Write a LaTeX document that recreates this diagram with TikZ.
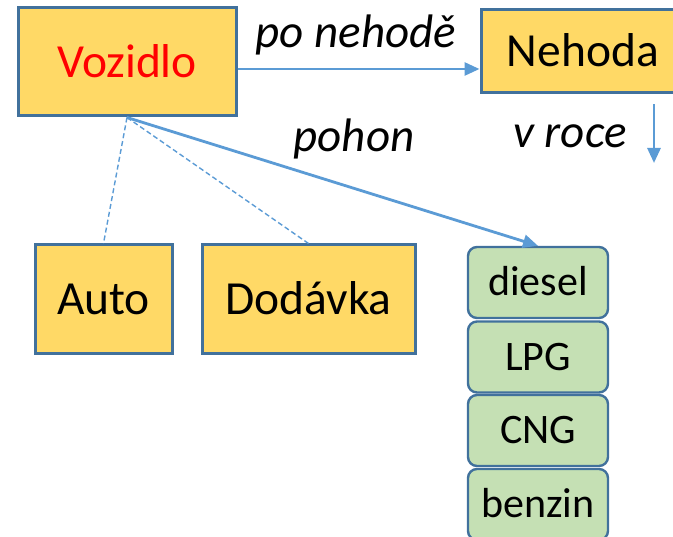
\documentclass[tikz,border=0pt]{standalone}
\usepackage{fontspec}
\setmainfont{Carlito}
\usetikzlibrary{arrows.meta}
\definecolor{boxfill}{HTML}{FFD966}
\definecolor{boxline}{HTML}{41719C}
\definecolor{greenfill}{HTML}{C5E0B4}
\definecolor{linkcol}{HTML}{5B9BD5}
\begin{document}
\begin{tikzpicture}[x=1pt,y=-1pt,
  ybox/.style={draw=boxline, fill=boxfill, line width=3pt, inner sep=0pt,
    text height=30.5pt, text depth=0pt, font=\fontsize{47.5}{50}\selectfont},
  gbox/.style={draw=boxline, fill=greenfill, line width=2.4pt, rounded corners=9pt,
    inner sep=0pt, minimum width=140pt, minimum height=71pt,
    text height=27pt, text depth=0pt, font=\fontsize{42}{45}\selectfont},
  link/.style={draw=linkcol, line width=2.8pt, -{Triangle[length=15pt,width=13pt]}},
  dlink/.style={draw=linkcol, line width=1.4pt, dash pattern=on 5pt off 3pt},
  lab/.style={font=\fontsize{47}{50}\selectfont\itshape, inner sep=0pt, anchor=base}
]
\useasboundingbox (0,0) rectangle (673,537);
\clip (0,0) rectangle (673,537);

\node[ybox, minimum width=218pt, minimum height=108pt, text=red] (voz) at (127,62) {Vozidlo};
\node[ybox, minimum width=204pt, minimum height=83pt] (neh) at (583,51.5) {Nehoda};
\node[ybox, minimum width=137pt, minimum height=109pt] (auto) at (103.5,299.5) {Auto};
\node[ybox, minimum width=213pt, minimum height=109pt] (dod) at (308.5,299.5) {Dodávka};

\node[gbox] (d1) at (538,282.5) {diesel};
\node[gbox] (d2) at (538,357) {LPG};
\node[gbox] (d3) at (538,430.5) {CNG};
\node[gbox] (d4) at (538,504.5) {benzin};

\node[lab] (l1) at (356,48) {po nehodě};
\node[lab] (l2) at (354,152) {pohon};
\node[lab] (l3) at (570,148) {v roce};

\coordinate (vr) at (654,163);

\draw[dlink] (voz.south) -- (auto.north);
\draw[dlink] (voz.south) -- (dod.north);
\draw[link] (voz.south) -- (d1.north);
\draw[link] ([yshift=-7pt]voz.east) -- ([yshift=-7pt]voz.east -| neh.west);
\draw[link] ([yshift=-10pt]neh.south -| vr) -- (vr);
\end{tikzpicture}
\end{document}
